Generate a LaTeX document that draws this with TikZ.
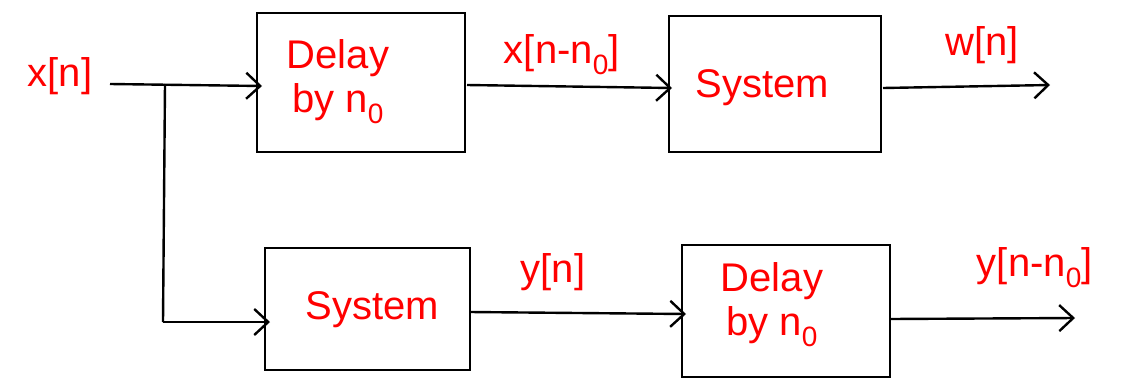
\documentclass[tikz,border=0pt]{standalone}
\usepackage{fontspec}
\setmainfont{Liberation Sans}
\usetikzlibrary{arrows.meta}
\newcommand{\nz}{n\textsubscript{0}}
\begin{document}
\begin{tikzpicture}[x=1pt,y=-1pt,
  blk/.style={draw=black,line width=2.6pt},
  conn/.style={draw=black,line width=2.4pt,-{Straight Barb[length=14pt,width=26pt,line width=2.4pt]}},
  wire/.style={draw=black,line width=2.4pt},
  lbl/.style={text=red,font=\fontsize{40}{44}\selectfont,align=center,inner sep=0pt}]
\useasboundingbox (0,0) rectangle (1121,378);
% boxes
\draw[blk] (257,13) rectangle (465,152);
\node[lbl] (d1) at (338,82) {Delay\\by \nz};
\draw[blk] (669,16) rectangle (881,152);
\node[lbl] (s1) at (762,88) {System};
\draw[blk] (265,248) rectangle (470,370);
\node[lbl] (s2) at (372,310) {System};
\draw[blk] (682,245) rectangle (890,377);
\node[lbl] (d2) at (772,305) {Delay\\by \nz};
% coordinates
\coordinate (in) at (110,84);
\coordinate (br) at (165,84);
\coordinate (d1in) at (262,86);
\coordinate (brd) at (163,322);
\coordinate (s2in) at (270,322);
\coordinate (d1out) at (467,85);
\coordinate (s1in) at (672,88);
\coordinate (s1out) at (883,88);
\coordinate (wout) at (1050,85);
\coordinate (s2out) at (470,312);
\coordinate (d2in) at (686,314);
\coordinate (d2out) at (890,319);
\coordinate (yout) at (1075,318);
% connectors
\draw[conn] (in) -- (d1in);
\draw[wire] (br) -- (brd);
\draw[conn] (brd) -- (s2in);
\draw[conn] (d1out) -- (s1in);
\draw[conn] (s1out) -- (wout);
\draw[conn] (s2out) -- (d2in);
\draw[conn] (d2out) -- (yout);
% labels
\node[lbl] (lx) at (60,76) {x[n]};
\node[lbl] (lxd) at (562,55) {x[n-\nz]};
\node[lbl] (lw) at (982,45) {w[n]};
\node[lbl] (ly) at (553,272) {y[n]};
\node[lbl] (lyd) at (1035,268) {y[n-\nz]};
\end{tikzpicture}
\end{document}
